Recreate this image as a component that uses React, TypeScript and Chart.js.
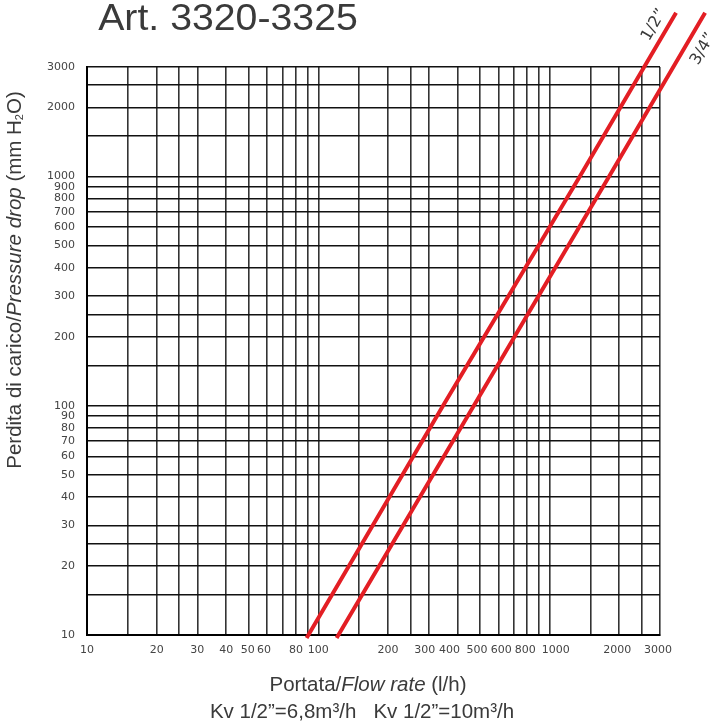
import React, { useEffect, useRef } from "react";
import { Chart, registerables } from "chart.js";

Chart.register(...registerables);

// ---- data ----
const gridValues = [10, 15, 20, 25, 30, 40, 50, 60, 70, 80, 90, 100, 150, 200, 250, 300, 400, 500, 600, 700, 800, 900, 1000, 1500, 2000, 2500, 3000];
const xTickLabels = [10, 20, 30, 40, 50, 60, 80, 100, 200, 300, 400, 500, 600, 800, 1000, 2000, 3000];
const xTickNudges = [0, 0, 0, 0, -1, -3, 0, 0, 0, -4, -8, -3, 3, -2, 6, -2, -2];
const yTickLabels = [10, 20, 30, 40, 50, 60, 70, 80, 90, 100, 200, 300, 400, 500, 600, 700, 800, 900, 1000, 2000, 3000];

const flowHalf = [89, 346, 1350, 3520];
const dropHalf = [9.7, 100, 1000, 5170];
const flowThreeQuarter = [120, 470, 1807, 4700];
const dropThreeQuarter = [9.7, 100, 1000, 5170];
const seriesNames = ["1/2\u201d", "3/4\u201d"];

const chartTitle = "Art. 3320-3325";
const xTitleParts = [
  { t: "Portata/", italic: false },
  { t: "Flow rate", italic: true },
  { t: " (l/h)", italic: false },
];
const kvLine = "Kv 1/2\u201d=6,8m\u00b3/h   Kv 1/2\u201d=10m\u00b3/h";

const RED = "#e31e24";
const TEXT = "#3a3a3a";

const textPlugin = {
  id: "textPlugin",
  afterDraw(chart: any) {
    const ctx = chart.ctx as CanvasRenderingContext2D;
    ctx.save();
    ctx.fillStyle = TEXT;

    // main title
    ctx.save();
    ctx.font = '36px "Liberation Sans"';
    ctx.textAlign = "center";
    ctx.textBaseline = "alphabetic";
    ctx.translate(228, 30);
    ctx.scale(1.09, 1);
    ctx.fillText(chartTitle, 0, 0);
    ctx.restore();

    // x tick labels
    const xs = chart.scales.x;
    ctx.fillStyle = "#444";
    ctx.font = '11px "DejaVu Sans"';
    ctx.textAlign = "center";
    ctx.textBaseline = "top";
    xTickLabels.forEach((v, i) => {
      ctx.fillText(String(v), xs.getPixelForValue(v) + xTickNudges[i], chart.chartArea.bottom + 10);
    });

    ctx.fillStyle = TEXT;
    ctx.textBaseline = "alphabetic";

    // x title with mixed styles
    const xf = (it: boolean) => (it ? 'italic 20.5px "Liberation Sans"' : '20.5px "Liberation Sans"');
    let total = 0;
    for (const p of xTitleParts) {
      ctx.font = xf(p.italic);
      total += ctx.measureText(p.t).width;
    }
    let x = 368 - total / 2;
    ctx.textAlign = "left";
    for (const p of xTitleParts) {
      ctx.font = xf(p.italic);
      ctx.fillText(p.t, x, 691);
      x += ctx.measureText(p.t).width;
    }

    // Kv line
    ctx.font = '20.5px "Liberation Sans"';
    ctx.textAlign = "center";
    ctx.fillText(kvLine, 362, 718);

    // y title, rotated
    ctx.save();
    ctx.translate(21, 280);
    ctx.rotate(-Math.PI / 2);
    const yParts = [
      { t: "Perdita di carico/", font: '20.5px "Liberation Sans"', dy: 0 },
      { t: "Pressure drop", font: 'italic 20.5px "Liberation Sans"', dy: 0 },
      { t: " (mm H", font: '20.5px "Liberation Sans"', dy: 0 },
      { t: "2", font: '11px "Liberation Sans"', dy: 2 },
      { t: "O)", font: '20.5px "Liberation Sans"', dy: 0 },
    ];
    let ytot = 0;
    for (const p of yParts) {
      ctx.font = p.font;
      ytot += ctx.measureText(p.t).width;
    }
    let yx = -ytot / 2;
    ctx.textAlign = "left";
    for (const p of yParts) {
      ctx.font = p.font;
      ctx.fillText(p.t, yx, p.dy);
      yx += ctx.measureText(p.t).width;
    }
    ctx.restore();

    // series labels along the lines
    const ang = -59.5 * Math.PI / 180;
    ctx.font = '16px "DejaVu Sans"';
    ctx.textAlign = "center";
    ctx.textBaseline = "middle";
    ctx.save();
    ctx.translate(654, 25);
    ctx.rotate(ang);
    ctx.fillText(seriesNames[0], 0, 0);
    ctx.restore();
    ctx.save();
    ctx.translate(703, 49);
    ctx.rotate(ang);
    ctx.fillText(seriesNames[1], 0, 0);
    ctx.restore();

    ctx.restore();
  },
};

export default function App() {
  const ref = useRef<HTMLCanvasElement | null>(null);

  useEffect(() => {
    if (!ref.current) return;
    const chart = new Chart(ref.current, {
      type: "line",
      data: {
        datasets: [
          {
            label: seriesNames[0],
            data: flowHalf.map((q, i) => ({ x: q, y: dropHalf[i] })),
            borderColor: RED,
            borderWidth: 4,
            pointRadius: 0,
            clip: false,
            tension: 0,
          } as any,
          {
            label: seriesNames[1],
            data: flowThreeQuarter.map((q, i) => ({ x: q, y: dropThreeQuarter[i] })),
            borderColor: RED,
            borderWidth: 4,
            pointRadius: 0,
            clip: false,
            tension: 0,
          } as any,
        ],
      },
      options: {
        responsive: false,
        animation: false,
        devicePixelRatio: 1,
        layout: { padding: { left: 0, top: 67, right: 65, bottom: 0 } },
        plugins: { legend: { display: false }, tooltip: { enabled: false }, title: { display: false } },
        scales: {
          x: {
            type: "logarithmic",
            min: 10,
            max: 3000,
            afterBuildTicks: (scale: any) => {
              scale.ticks = gridValues.map((v) => ({ value: v }));
            },
            afterFit: (scale: any) => {
              scale.height = 92;
            },
            ticks: {
              autoSkip: false,
              maxRotation: 0,
              minRotation: 0,
              padding: 9,
              font: { family: "DejaVu Sans", size: 11 },
              callback: () => "",
            },
            grid: { color: "#333", lineWidth: 1.6, drawTicks: false },
            border: { color: "#000", width: 2 },
          },
          y: {
            type: "logarithmic",
            min: 10,
            max: 3000,
            afterBuildTicks: (scale: any) => {
              scale.ticks = gridValues.map((v) => ({ value: v }));
            },
            afterFit: (scale: any) => {
              scale.width = 87;
            },
            ticks: {
              autoSkip: false,
              padding: 12,
              color: "#444",
              font: { family: "DejaVu Sans", size: 11 },
              callback: (v: any) => (yTickLabels.includes(Number(v)) ? String(v) : ""),
            },
            grid: { color: "#111", lineWidth: 1.6, drawTicks: false },
            border: { color: "#000", width: 2 },
          },
        },
      } as any,
      plugins: [textPlugin],
    });
    return () => chart.destroy();
  }, []);

  return (
    <div style={{ position: "absolute", left: 0, top: 0, width: 725, height: 727, background: "#fff" }}>
      <canvas ref={ref} width={725} height={727} />
    </div>
  );
}
